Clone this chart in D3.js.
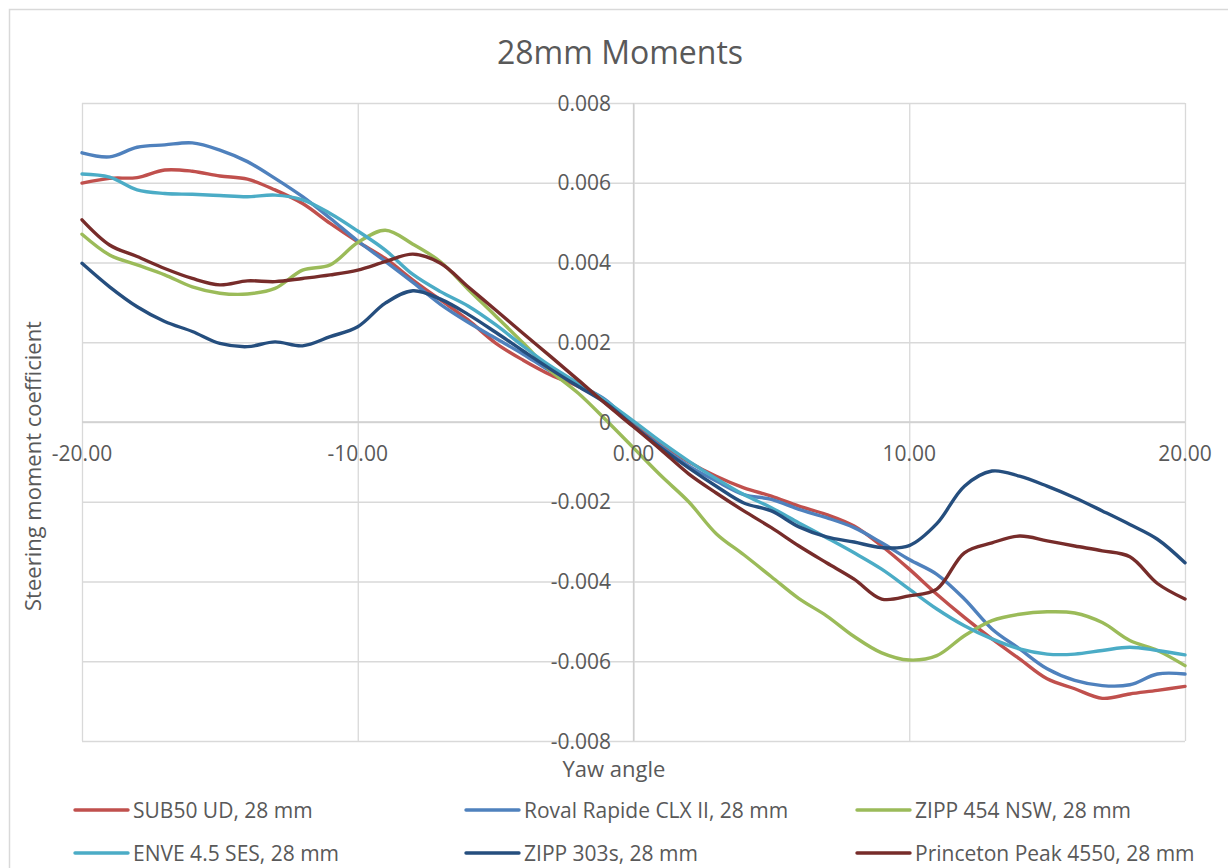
<!DOCTYPE html>
<html>
<head>
<meta charset="utf-8">
<script src="https://cdn.jsdelivr.net/npm/d3@7"></script>
<style>
  html, body { margin: 0; padding: 0; background: #fff; }
  svg { display: block; font-family: "Open Sans", "Noto Sans", sans-serif; }
</style>
</head>
<body>
<svg id="chart" width="1228" height="868"></svg>
<script>
// ---------- data ----------
const yaw = d3.range(-20, 21, 1);
const seriesNames = [
  "SUB50 UD, 28 mm",
  "Roval Rapide CLX II, 28 mm",
  "ZIPP 454 NSW, 28 mm",
  "ENVE 4.5 SES, 28 mm",
  "ZIPP 303s, 28 mm",
  "Princeton Peak 4550, 28 mm"
];
const seriesColors = ["#C0504D", "#4F81BD", "#9BBB59", "#4BACC6", "#254E7E", "#772C2A"];

const sub50 = [0.00599,0.00611,0.00613,0.00632,0.00629,0.00617,0.00609,0.00582,0.00548,0.00498,0.00452,
  0.00410,0.00356,0.00306,0.00256,0.00198,0.00155,0.00118,0.00089,0.00050,-0.00005,
  -0.00055,-0.00100,-0.00136,-0.00165,-0.00186,-0.00211,-0.00232,-0.00261,-0.00311,-0.00369,
  -0.00432,-0.00490,-0.00544,-0.00594,-0.00644,-0.00669,-0.00693,-0.00682,-0.00673,-0.00663];
const roval = [0.00675,0.00665,0.00689,0.00695,0.00700,0.00682,0.00653,0.00611,0.00565,0.00511,0.00454,
  0.00403,0.00350,0.00295,0.00250,0.00210,0.00170,0.00127,0.00093,0.00055,-0.00010,
  -0.00062,-0.00110,-0.00148,-0.00182,-0.00194,-0.00219,-0.00240,-0.00265,-0.00303,-0.00345,
  -0.00382,-0.00444,-0.00519,-0.00569,-0.00619,-0.00648,-0.00661,-0.00659,-0.00632,-0.00632];
const zipp454 = [0.00471,0.00419,0.00394,0.00369,0.00339,0.00323,0.00321,0.00335,0.00381,0.00394,0.00450,
  0.00481,0.00446,0.00402,0.00333,0.00266,0.00198,0.00128,0.00072,0.00005,-0.00065,
  -0.00135,-0.00200,-0.00280,-0.00333,-0.00388,-0.00443,-0.00486,-0.00538,-0.00579,-0.00597,
  -0.00586,-0.00536,-0.00498,-0.00482,-0.00476,-0.00479,-0.00503,-0.00548,-0.00573,-0.00611];
const enve = [0.00622,0.00614,0.00582,0.00573,0.00571,0.00568,0.00565,0.00569,0.00557,0.00523,0.00479,
  0.00431,0.00370,0.00327,0.00291,0.00244,0.00190,0.00140,0.00097,0.00052,0.00002,
  -0.00050,-0.00098,-0.00142,-0.00182,-0.00215,-0.00253,-0.00290,-0.00328,-0.00369,-0.00419,
  -0.00469,-0.00511,-0.00544,-0.00569,-0.00582,-0.00582,-0.00573,-0.00565,-0.00573,-0.00584];
const zipp303 = [0.00398,0.00339,0.00289,0.00252,0.00227,0.00197,0.00189,0.00201,0.00191,0.00214,0.00239,
  0.00298,0.00329,0.00308,0.00270,0.00225,0.00178,0.00132,0.00089,0.00047,-0.00010,
  -0.00065,-0.00115,-0.00161,-0.00203,-0.00223,-0.00263,-0.00288,-0.00301,-0.00315,-0.00310,
  -0.00255,-0.00161,-0.00123,-0.00136,-0.00161,-0.00190,-0.00223,-0.00257,-0.00294,-0.00353];
const princeton = [0.00507,0.00444,0.00415,0.00385,0.00360,0.00344,0.00354,0.00352,0.00360,0.00369,0.00381,
  0.00402,0.00421,0.00398,0.00339,0.00281,0.00222,0.00164,0.00105,0.00045,-0.00012,
  -0.00070,-0.00130,-0.00178,-0.00223,-0.00265,-0.00311,-0.00353,-0.00394,-0.00444,-0.00436,
  -0.00419,-0.00328,-0.00303,-0.00286,-0.00298,-0.00311,-0.00323,-0.00338,-0.00405,-0.00444];

const xTicks = [-20, -10, 0, 10, 20];
const yTicks = [-0.008, -0.006, -0.004, -0.002, 0, 0.002, 0.004, 0.006, 0.008];
const titleText = "28mm Moments";
const xTitle = "Yaw angle";
const yTitle = "Steering moment coefficient";

// ---------- drawing ----------
const svg = d3.select("#chart");
const textColor = "#595959";
const gridColor = "#D9D9D9";

// chart border
svg.append("rect").attr("x", 9.5).attr("y", 9.5).attr("width", 1240).attr("height", 880)
  .attr("fill", "#fff").attr("stroke", "#D9D9D9").attr("stroke-width", 1.5);

const x = d3.scaleLinear().domain([-20, 20]).range([82, 1185]);
const y = d3.scaleLinear().domain([-0.008, 0.008]).range([741, 103]);

// gridlines
const grid = svg.append("g");
grid.append("g")
  .call(d3.axisLeft(y).tickValues(yTicks).tickSize(-(1185 - 82)).tickFormat(""))
  .attr("transform", "translate(82,0)")
  .call(g => g.select(".domain").remove())
  .call(g => g.selectAll("line").attr("stroke", gridColor).attr("stroke-width", 1.3));
grid.append("g")
  .call(d3.axisTop(x).tickValues(xTicks).tickSize(-(741 - 103)).tickFormat(""))
  .attr("transform", "translate(0,103)")
  .call(g => g.select(".domain").remove())
  .call(g => g.selectAll("line").attr("stroke", gridColor).attr("stroke-width", 1.3));

// axes through zero
svg.append("line").attr("x1", x(-20)).attr("x2", x(20)).attr("y1", y(0)).attr("y2", y(0))
  .attr("stroke", "#CFCFCF").attr("stroke-width", 1.3);
svg.append("line").attr("x1", x(0)).attr("x2", x(0)).attr("y1", y(0.008)).attr("y2", y(-0.008))
  .attr("stroke", "#CFCFCF").attr("stroke-width", 1.3);

// series
const allSeries = [sub50, roval, zipp454, enve, zipp303, princeton];
const line = d3.line()
  .x((d, i) => x(yaw[i]))
  .y(d => y(d))
  .curve(d3.curveCatmullRom.alpha(0.5));
svg.append("g").selectAll("path").data(allSeries).join("path")
  .attr("d", d => line(d))
  .attr("fill", "none")
  .attr("stroke", (d, i) => seriesColors[i])
  .attr("stroke-width", 3.4)
  .attr("stroke-linejoin", "round")
  .attr("stroke-linecap", "round");

// y tick labels (at the zero axis)
const hyphen = s => s.replace(/\u2212/g, "-");
const yFmt = v => v === 0 ? "0" : hyphen(d3.format(".3f")(v));
svg.append("g").selectAll("text").data(yTicks).join("text")
  .attr("x", 611).attr("y", d => y(d)).attr("dy", "0.36em")
  .attr("text-anchor", "end").attr("fill", textColor).attr("font-size", 21)
  .text(yFmt);

// x tick labels
svg.append("g").selectAll("text").data(xTicks).join("text")
  .attr("x", d => x(d)).attr("y", 461)
  .attr("text-anchor", "middle").attr("fill", textColor).attr("font-size", 21)
  .text(d => hyphen(d3.format(".2f")(d)));

// title
svg.append("text").attr("x", 620).attr("y", 64).attr("text-anchor", "middle")
  .attr("fill", textColor).attr("font-size", 32).text(titleText);

// axis titles
svg.append("text").attr("x", 614).attr("y", 777).attr("text-anchor", "middle")
  .attr("fill", textColor).attr("font-size", 22).text(xTitle);
svg.append("text").attr("transform", "translate(41,466) rotate(-90)").attr("text-anchor", "middle")
  .attr("fill", textColor).attr("font-size", 22).text(yTitle);

// legend
const legX = [75, 466, 857];
const legY = [810, 853];
const leg = svg.append("g").selectAll("g").data(seriesNames).join("g")
  .attr("transform", (d, i) => `translate(${legX[i % 3]},${legY[Math.floor(i / 3)]})`);
leg.append("line").attr("x1", 0).attr("x2", 53).attr("y1", 0).attr("y2", 0)
  .attr("stroke", (d, i) => seriesColors[i]).attr("stroke-width", 3.4).attr("stroke-linecap", "round");
leg.append("text").attr("x", 58).attr("y", 0).attr("dy", "0.36em")
  .attr("fill", textColor).attr("font-size", 21).text(d => d);
</script>
</body>
</html>
